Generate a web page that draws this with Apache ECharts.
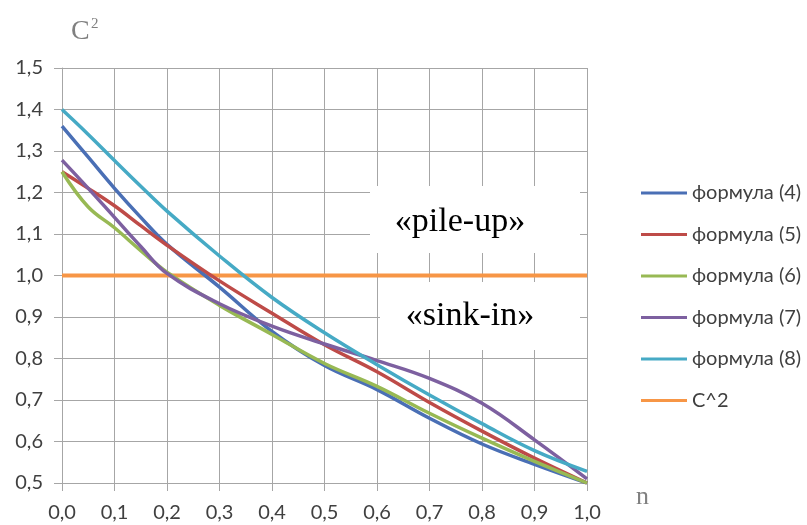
<!DOCTYPE html>
<html>
<head>
<meta charset="utf-8">
<script src="https://cdn.jsdelivr.net/npm/echarts@6/dist/echarts.min.js"></script>
<style>
  html, body { margin: 0; padding: 0; background: #fff; }
  #chart { width: 807px; height: 525px; }
</style>
</head>
<body>
<div id="chart"></div>
<script>
// Relative thickness n on the horizontal axis, C^2 on the vertical axis
const nValues = [0, 0.05, 0.1, 0.15, 0.2, 0.3, 0.4, 0.5, 0.6, 0.7, 0.8, 0.9, 1.0];

const formula4 = [1.36, 1.285, 1.21, 1.14, 1.075, 0.972, 0.865, 0.783, 0.725, 0.656, 0.594, 0.545, 0.50];
const formula5 = [1.25, 1.21, 1.168, 1.12, 1.073, 0.987, 0.909, 0.833, 0.768, 0.694, 0.625, 0.56, 0.50];
const formula6 = [1.25, 1.165, 1.115, 1.06, 1.008, 0.928, 0.858, 0.788, 0.733, 0.668, 0.608, 0.552, 0.50];
const formula7 = [1.278, 1.21, 1.14, 1.07, 1.005, 0.932, 0.878, 0.835, 0.795, 0.752, 0.692, 0.604, 0.51];
const formula8 = [1.40, 1.34, 1.277, 1.215, 1.155, 1.047, 0.947, 0.862, 0.785, 0.712, 0.643, 0.578, 0.528];
const cSquaredN = [0, 1.0];
const cSquared = [1.0, 1.0];

const seriesNames = ['формула (4)', 'формула (5)', 'формула (6)', 'формула (7)', 'формула (8)', 'C^2'];
const seriesColors = ['#4A6FB5', '#BE4B48', '#98B954', '#7D60A0', '#46AAC5', '#F79646'];

const xTicks = ['0,0', '0,1', '0,2', '0,3', '0,4', '0,5', '0,6', '0,7', '0,8', '0,9', '1,0'];
const yTicks = ['0,5', '0,6', '0,7', '0,8', '0,9', '1,0', '1,1', '1,2', '1,3', '1,4', '1,5'];

const curves = [formula4, formula5, formula6, formula7, formula8];

function pairs(xs, ys) {
  return xs.map((x, i) => [x, ys[i]]);
}

const chart = echarts.init(document.getElementById('chart'));

const gridLine = { show: true, lineStyle: { color: '#a6a6a6', width: 1 } };
const labelFont = { color: '#404040', fontFamily: 'Lato', fontSize: 20 };

const series = curves.map((ys, i) => ({
  name: seriesNames[i],
  type: 'line',
  smooth: 0.4,
  showSymbol: false,
  data: pairs(nValues, ys),
  lineStyle: { color: seriesColors[i], width: 3.5 },
  itemStyle: { color: seriesColors[i] },
  z: 3 + i
}));
series.push({
  name: seriesNames[5],
  type: 'line',
  showSymbol: false,
  data: pairs(cSquaredN, cSquared),
  lineStyle: { color: seriesColors[5], width: 4 },
  itemStyle: { color: seriesColors[5] },
  z: 2
});

chart.setOption({
  backgroundColor: '#fff',
  animation: false,
  grid: { left: 62, top: 68, width: 525, height: 415 },
  xAxis: {
    type: 'value', min: 0, max: 1, interval: 0.1,
    axisLine: { show: true, lineStyle: { color: '#a6a6a6' } },
    axisTick: { show: true, length: 8, lineStyle: { color: '#a6a6a6' } },
    splitLine: gridLine,
    axisLabel: Object.assign({ margin: 20, formatter: v => xTicks[Math.round(v * 10)] }, labelFont)
  },
  yAxis: {
    type: 'value', min: 0.5, max: 1.5, interval: 0.1,
    axisLine: { show: true, lineStyle: { color: '#a6a6a6' } },
    axisTick: { show: true, length: 8, lineStyle: { color: '#a6a6a6' } },
    splitLine: gridLine,
    axisLabel: Object.assign({ margin: 19, formatter: v => yTicks[Math.round(v * 10) - 5] }, labelFont)
  },
  legend: {
    orient: 'vertical',
    left: 636, top: 178,
    itemWidth: 46, itemHeight: 3, itemGap: 21.5,
    icon: 'rect',
    textStyle: { color: '#404040', fontFamily: 'Lato', fontSize: 20 },
    data: seriesNames
  },
  graphic: [
    { type: 'rect', shape: { x: 370, y: 186, width: 210, height: 67 }, style: { fill: '#fff' }, z: 10 },
    { type: 'text', x: 460, y: 222, z: 11,
      style: { text: '«pile-up»', fill: '#000', font: '34px "Liberation Serif"', align: 'center', verticalAlign: 'middle' } },
    { type: 'rect', shape: { x: 380, y: 282, width: 200, height: 68 }, style: { fill: '#fff' }, z: 10 },
    { type: 'text', x: 470, y: 316, z: 11,
      style: { text: '«sink-in»', fill: '#000', font: '34px "Liberation Serif"', align: 'center', verticalAlign: 'middle' } },
    { type: 'text', x: 71, y: 18, z: 11,
      style: { text: 'C', fill: '#808080', font: '28px "Liberation Serif"' } },
    { type: 'text', x: 91, y: 17, z: 11,
      style: { text: '2', fill: '#808080', font: '15px "Liberation Serif"' } },
    { type: 'text', x: 636, y: 484, z: 11,
      style: { text: 'n', fill: '#808080', font: '26px "Liberation Serif"' } }
  ],
  series: series
});
</script>
</body>
</html>
